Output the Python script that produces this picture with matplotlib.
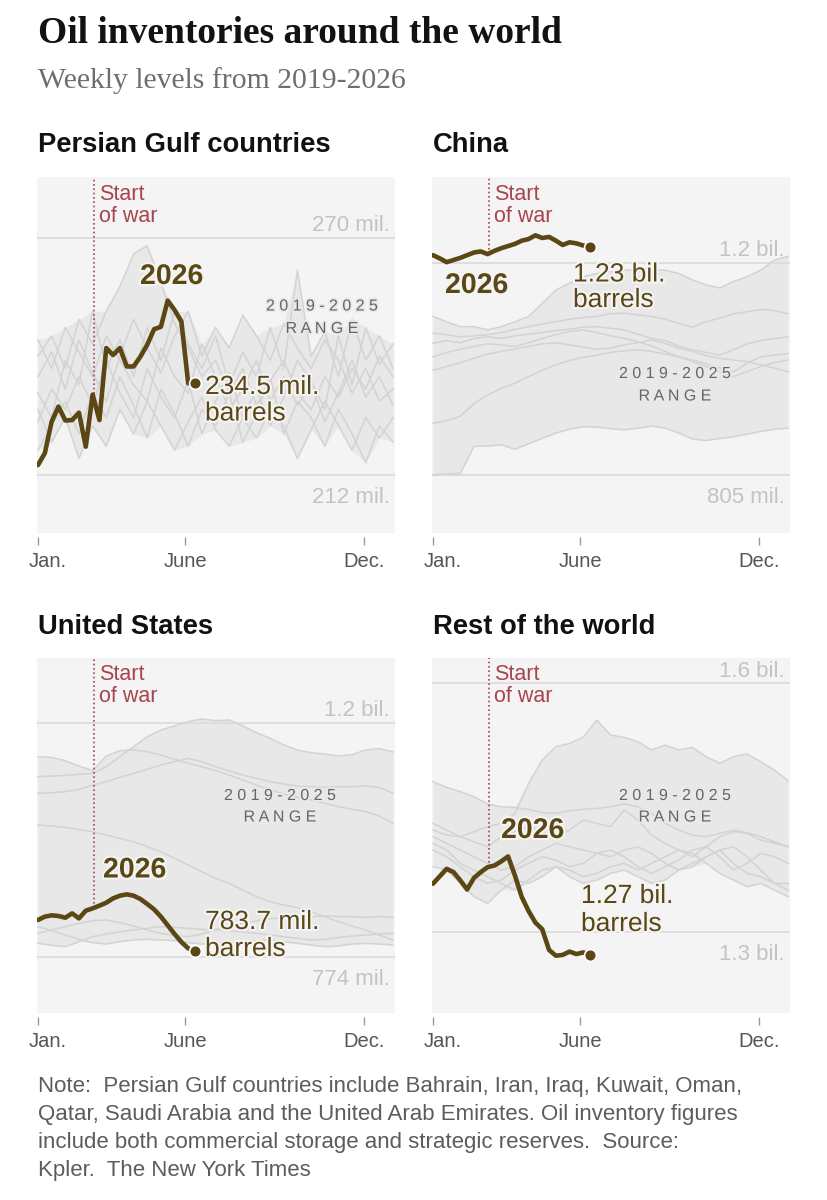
import matplotlib
matplotlib.use('Agg')
import numpy as np
import matplotlib.pyplot as plt
from matplotlib import patheffects as pe
from matplotlib.transforms import ScaledTranslation

W, H = 828, 1200

OLIVE = '#5a4714'
RED = '#a8434f'
PANEL_BG = '#f4f4f4'
BAND = '#e8e8e8'
PAST_LINE = '#d3d3d3'
GRID = '#dcdcdc'
GRID_TXT = '#c3c3c3'
SANS = 'Liberation Sans'
SERIF = 'Liberation Serif'
NARROW = ['Liberation Sans Narrow', 'DejaVu Sans Condensed', 'Liberation Sans']

# ---------------- data, millions of barrels ----------------
# 2026: weekly, from the first week of January to early June
gulf_2026 = [214.4, 217.3, 225.0, 228.7, 225.3, 225.4, 227.2, 218.9, 231.6, 225.4,
             243.0, 241.3, 243.0, 238.5, 238.5, 240.9, 243.8, 247.6, 248.2, 254.6,
             252.3, 249.5, 234.4, 234.5]
china_2026 = [1214, 1208, 1201, 1205, 1209, 1214, 1219, 1221, 1216, 1222, 1227, 1231,
              1235, 1241, 1244, 1251, 1246, 1248, 1241, 1233, 1238, 1236, 1232, 1230]
us_2026 = [840.8, 846.9, 849.3, 848.1, 845.0, 852.9, 843.8, 857.8, 862.0, 866.9,
           872.3, 880.2, 885.1, 887.5, 885.1, 879.0, 869.9, 860.2, 846.9, 831.1,
           815.3, 800.7, 789.2, 783.7]
row_2026 = [1358, 1367, 1376, 1372, 1362, 1351, 1365, 1372, 1378, 1380, 1385, 1391,
            1368, 1342, 1325, 1311, 1303, 1278, 1271, 1272, 1276, 1273, 1275, 1272]

# 2019-2025: one line per year, every two weeks through the year
gulf_past = [
    [241, 246, 238, 250, 244, 252, 258, 266, 268, 259, 249, 243, 236, 240, 232, 238, 229, 235, 240, 232, 228, 236, 231, 238, 233, 241, 236],
    [232, 226, 240, 234, 252, 238, 245, 236, 248, 240, 252, 244, 238, 246, 234, 242, 236, 248, 238, 262, 241, 247, 236, 250, 240, 246, 238],
    [225, 233, 228, 236, 229, 240, 232, 226, 238, 231, 226, 235, 222, 230, 237, 226, 233, 224, 231, 240, 235, 228, 246, 234, 248, 239, 244],
    [218, 224, 230, 222, 232, 226, 236, 229, 221, 233, 227, 219, 228, 224, 232, 220, 227, 236, 222, 230, 226, 219, 228, 222, 215, 224, 220],
    [236, 242, 233, 245, 237, 230, 241, 250, 243, 237, 246, 252, 241, 248, 243, 251, 246, 240, 249, 243, 238, 245, 240, 232, 238, 230, 233],
    [228, 220, 226, 216, 224, 219, 228, 222, 230, 224, 218, 225, 231, 223, 219, 226, 221, 228, 224, 216, 223, 230, 224, 218, 226, 221, 226],
    [245, 238, 248, 242, 236, 246, 240, 234, 230, 243, 236, 232, 244, 236, 228, 233, 240, 230, 236, 229, 234, 225, 232, 240, 231, 236, 229],
]
china_past = [
    [1100, 1090, 1081, 1081, 1075, 1081, 1090, 1100, 1124, 1149, 1162, 1174, 1180, 1183, 1186, 1187, 1188, 1186, 1180, 1168, 1159, 1153, 1165, 1174, 1186, 1205, 1212],
    [1069, 1066, 1062, 1064, 1066, 1070, 1076, 1081, 1086, 1090, 1095, 1098, 1100, 1105, 1106, 1103, 1100, 1095, 1087, 1080, 1090, 1097, 1105, 1109, 1113, 1111, 1105],
    [1050, 1055, 1051, 1059, 1062, 1059, 1064, 1067, 1070, 1074, 1076, 1080, 1081, 1078, 1075, 1067, 1059, 1055, 1045, 1038, 1033, 1028, 1038, 1049, 1055, 1059, 1062],
    [1025, 1033, 1039, 1044, 1049, 1047, 1044, 1051, 1059, 1066, 1072, 1075, 1070, 1064, 1059, 1053, 1045, 1035, 1025, 1016, 1007, 997, 988, 997, 1007, 1014, 1019],
    [1000, 1007, 1014, 1022, 1030, 1035, 1039, 1044, 1049, 1051, 1047, 1043, 1039, 1041, 1047, 1051, 1056, 1050, 1041, 1035, 1027, 1022, 1019, 1016, 1010, 1004, 997],
    [901, 906, 914, 938, 954, 966, 976, 988, 1000, 1010, 1018, 1024, 1028, 1033, 1036, 1038, 1035, 1030, 1025, 1019, 1012, 1004, 997, 1013, 1025, 1028, 1031],
    [805, 807, 808, 858, 859, 861, 853, 863, 873, 883, 890, 895, 894, 891, 889, 892, 896, 892, 883, 872, 869, 873, 876, 881, 886, 890, 892],
]
us_past = [
    [1101.7, 1102.9, 1104.1, 1106.0, 1107.8, 1119.9, 1138.1, 1156.3, 1174.5, 1186.7, 1194.0, 1201.8, 1206.7, 1203.7, 1204.9, 1194.0, 1181.8, 1171.5, 1159.4, 1150.3, 1145.4, 1143.0, 1139.3, 1141.8, 1150.3, 1152.7, 1146.6],
    [1138.1, 1136.9, 1130.8, 1121.1, 1112.6, 1139.3, 1149.0, 1150.3, 1147.2, 1141.2, 1133.3, 1126.0, 1119.9, 1112.6, 1104.7, 1095.6, 1086.5, 1077.4, 1070.2, 1064.1, 1059.2, 1053.2, 1047.1, 1042.2, 1038.0, 1030.1, 1016.8],
    [1071.4, 1072.6, 1074.4, 1078.7, 1086.5, 1092.6, 1100.5, 1107.8, 1115.1, 1123.0, 1129.0, 1135.1, 1129.0, 1119.9, 1112.6, 1104.7, 1098.7, 1092.6, 1088.4, 1084.7, 1083.5, 1082.3, 1083.5, 1083.5, 1084.7, 1082.3, 1071.4],
    [1013.7, 1011.9, 1009.5, 1005.8, 1001.6, 995.5, 989.5, 983.4, 974.3, 965.2, 953.0, 940.9, 928.8, 916.6, 907.5, 895.4, 883.3, 874.2, 868.1, 863.8, 856.0, 846.9, 837.8, 829.9, 822.6, 813.5, 804.4],
    [816.5, 822.6, 828.7, 834.7, 839.6, 840.8, 835.9, 829.9, 822.6, 816.5, 812.9, 810.4, 815.3, 823.8, 829.9, 834.7, 839.6, 843.2, 845.6, 846.9, 846.9, 848.1, 846.9, 846.9, 845.6, 846.9, 845.6],
    [798.3, 794.7, 792.2, 801.4, 810.4, 815.3, 819.5, 822.6, 825.6, 828.7, 827.4, 825.6, 823.8, 822.6, 821.4, 819.0, 816.5, 813.5, 810.4, 807.4, 804.4, 805.6, 809.2, 811.7, 813.5, 815.3, 816.5],
    [828.7, 821.4, 813.5, 805.6, 799.5, 797.1, 801.4, 804.4, 805.6, 804.4, 803.2, 799.5, 797.1, 798.3, 799.5, 801.4, 803.2, 804.4, 801.4, 798.3, 795.3, 792.2, 793.5, 797.1, 798.3, 797.1, 795.3],
]
row_past = [
    [1422.8, 1416.8, 1414.8, 1420.8, 1426.9, 1430.9, 1443.0, 1479.2, 1507.4, 1523.5, 1527.5, 1534.8, 1555.7, 1537.6, 1534.8, 1529.6, 1519.5, 1525.5, 1519.5, 1522.7, 1511.4, 1503.4, 1511.4, 1514.7, 1505.4, 1495.3, 1482.4],
    [1481.2, 1474.4, 1469.2, 1463.1, 1454.3, 1451.0, 1450.2, 1447.8, 1443.8, 1443.0, 1446.2, 1447.8, 1449.0, 1451.0, 1454.3, 1451.0, 1443.0, 1430.9, 1422.8, 1416.8, 1414.8, 1418.8, 1422.8, 1419.6, 1414.8, 1408.7, 1402.7],
    [1430.9, 1422.8, 1414.8, 1408.7, 1402.7, 1414.8, 1420.8, 1426.9, 1420.8, 1414.8, 1422.8, 1434.9, 1430.9, 1426.9, 1447.0, 1434.9, 1416.8, 1406.7, 1398.7, 1390.6, 1402.7, 1414.8, 1420.8, 1418.8, 1410.8, 1406.7, 1402.7],
    [1414.8, 1406.7, 1398.7, 1390.6, 1382.6, 1374.5, 1378.5, 1390.6, 1398.7, 1406.7, 1402.7, 1398.7, 1394.7, 1390.6, 1398.7, 1402.7, 1394.7, 1382.6, 1374.5, 1378.5, 1390.6, 1398.7, 1382.6, 1370.5, 1366.5, 1358.4, 1350.3],
    [1398.7, 1390.6, 1378.5, 1366.5, 1358.4, 1362.4, 1374.5, 1382.6, 1390.6, 1386.6, 1378.5, 1382.6, 1394.7, 1398.7, 1390.6, 1378.5, 1370.5, 1378.5, 1386.6, 1398.7, 1402.7, 1390.6, 1374.5, 1382.6, 1394.7, 1390.6, 1382.6],
    [1378.5, 1374.5, 1358.4, 1342.3, 1334.2, 1350.3, 1362.4, 1358.4, 1366.5, 1378.5, 1374.5, 1366.5, 1370.5, 1378.5, 1382.6, 1374.5, 1382.6, 1390.6, 1398.7, 1394.7, 1382.6, 1370.5, 1362.4, 1354.4, 1358.4, 1350.3, 1342.3],
    [1406.7, 1398.7, 1382.6, 1374.5, 1366.5, 1358.4, 1350.3, 1362.4, 1374.5, 1378.5, 1366.5, 1358.4, 1362.4, 1370.5, 1374.5, 1366.5, 1358.4, 1362.4, 1374.5, 1382.6, 1390.6, 1398.7, 1402.7, 1390.6, 1374.5, 1358.4, 1358.4],
]

month_days = [0, 151, 334]
month_labels = ['Jan.', 'June', 'Dec.']
war_day = 57

panels = [
    dict(title='Persian Gulf countries', now=gulf_2026, past=gulf_past,
         grid=(270, 212), grid_labels=('270 mil.', '212 mil.'),
         end_label=('234.5 mil.', 'barrels')),
    dict(title='China', now=china_2026, past=china_past,
         grid=(1200, 805), grid_labels=('1.2 bil.', '805 mil.'),
         end_label=('1.23 bil.', 'barrels')),
    dict(title='United States', now=us_2026, past=us_past,
         grid=(1200, 774), grid_labels=('1.2 bil.', '774 mil.'),
         end_label=('783.7 mil.', 'barrels')),
    dict(title='Rest of the world', now=row_2026, past=row_past,
         grid=(1600, 1300), grid_labels=('1.6 bil.', '1.3 bil.'),
         end_label=('1.27 bil.', 'barrels')),
]

# layout, in pixels from the top left of the picture
layout = [
    dict(box=(37, 177, 395, 533), ylim=(197.8, 284.8), title_y=152,
         war_y=(200, 222), year_xy=(140, 284), range_xy=(322, 310.5, 333),
         end_xy=(205, 394, 420.5)),
    dict(box=(432, 177, 790, 533), ylim=(697.0, 1359.5), title_y=152,
         war_y=(200, 222), year_xy=(445, 293), range_xy=(675, 378, 400.5),
         end_xy=(573, 281.5, 307)),
    dict(box=(37, 658, 395, 1013), ylim=(671.5, 1317.8), title_y=634,
         war_y=(680, 702), year_xy=(103, 877.5), range_xy=(280, 800, 821.5),
         end_xy=(205, 929, 956)),
    dict(box=(432, 658, 790, 1013), ylim=(1201.8, 1630.7), title_y=634,
         war_y=(680, 702), year_xy=(501, 838), range_xy=(675, 800, 821.5),
         end_xy=(581, 903, 931)),
]

fig = plt.figure(figsize=(W / 100, H / 100), dpi=100)
renderer = fig.canvas.get_renderer()


def ftext(x, y, s, **kw):
    return fig.text(x / W, 1 - y / H, s, **kw)


def fit_width(t, width_px):
    w = t.get_window_extent(renderer).width
    t.set_fontsize(t.get_fontsize() * width_px / w)
    return t.get_fontsize()


halo = [pe.withStroke(linewidth=3, foreground=PANEL_BG)]
band_halo = [pe.withStroke(linewidth=2.5, foreground=BAND)]

# headline
t = ftext(38, 43, 'Oil inventories around the world', family=SERIF,
          weight='bold', fontsize=30, color='#121212', va='baseline')
fit_width(t, 523)
t = ftext(38, 88, 'Weekly levels from 2019-2026', family=SERIF,
          fontsize=20, color='#6e6e6e', va='baseline')
fit_width(t, 369)

panel_title_size = None
for p, lay in zip(panels, layout):
    l, top, r, b = lay['box']
    ax = fig.add_axes([l / W, 1 - b / H, (r - l) / W, (b - top) / H])
    ax.set_facecolor(PANEL_BG)
    ax.set_xlim(-1, 366)
    ax.set_ylim(*lay['ylim'])
    for s in ax.spines.values():
        s.set_visible(False)
    ax.spines['bottom'].set_position(('outward', 2.7))
    ax.set_yticks([])
    ax.set_xticks(month_days, month_labels)
    ax.tick_params(axis='x', length=6, width=1, color='#9a9a9a', pad=5,
                   labelsize=14.5, labelcolor='#555555')
    for lab in ax.get_xticklabels():
        lab.set_family(SANS)
    first = ax.get_xticklabels()[0]
    first.set_transform(first.get_transform() + ScaledTranslation(0.1, 0, fig.dpi_scale_trans))

    weeks_past = np.arange(len(p['past'][0])) * 14
    weeks_now = np.arange(len(p['now'])) * 7
    past = np.array(p['past'])

    ax.fill_between(weeks_past, past.min(axis=0), past.max(axis=0),
                    color=BAND, lw=0, zorder=1)
    for v in p['grid']:
        ax.axhline(v, color=GRID, lw=1.3, zorder=1.5)
    for line in past:
        ax.plot(weeks_past, line, color=PAST_LINE, lw=1.1, zorder=2)

    # grid labels: upper one above its line, lower one below
    ax.annotate(p['grid_labels'][0], xy=(1, p['grid'][0]),
                xycoords=('axes fraction', 'data'), xytext=(-5, 6.5),
                textcoords='offset pixels', ha='right', va='baseline',
                fontsize=16, color=GRID_TXT, family=SANS, zorder=3)
    ax.annotate(p['grid_labels'][1], xy=(1, p['grid'][1]),
                xycoords=('axes fraction', 'data'), xytext=(-5, -12.5),
                textcoords='offset pixels', ha='right', va='top',
                fontsize=16, color=GRID_TXT, family=SANS, zorder=3)

    # start of war
    war_val = np.interp(war_day, weeks_now, p['now'])
    ax.plot([war_day, war_day], [war_val, lay['ylim'][1]], color=RED, lw=1.2,
            ls=(0, (1, 1.6)), zorder=4)

    ax.plot(weeks_now, p['now'], color=OLIVE, lw=3.3, solid_capstyle='round',
            solid_joinstyle='round', zorder=5)
    ax.plot(weeks_now[-1], p['now'][-1], 'o', ms=8.5, mfc=OLIVE, mec='white',
            mew=1.2, zorder=6)

    # texts
    t = ftext(38 if l < 400 else 433, lay['title_y'], p['title'], family=SANS,
              weight='bold', fontsize=20, color='#111111', va='baseline')
    if panel_title_size is None:
        panel_title_size = fit_width(t, 292)
    else:
        t.set_fontsize(panel_title_size)

    wx = l + 5 + (war_day + 1) * (r - l) / 367
    for y, s in zip(lay['war_y'], ['Start', 'of war']):
        ftext(wx, y, s, family=SANS, fontsize=15.5, color=RED, va='baseline')

    ftext(lay['year_xy'][0], lay['year_xy'][1], '2026', family=SANS,
          weight='bold', fontsize=20.5, color=OLIVE, va='baseline',
          path_effects=halo)

    cx, y1, y2 = lay['range_xy']
    ftext(cx, y1, '2 0 1 9 - 2 0 2 5', family=SANS, fontsize=11.5, color='#666666',
          ha='center', va='baseline', path_effects=band_halo)
    ftext(cx, y2, 'R A N G E', family=SANS, fontsize=11.5, color='#666666',
          ha='center', va='baseline', path_effects=band_halo)

    ex, e1, e2 = lay['end_xy']
    ftext(ex, e1, p['end_label'][0], family=SANS, fontsize=19, color=OLIVE,
          va='baseline', path_effects=halo)
    ftext(ex, e2, p['end_label'][1], family=SANS, fontsize=19, color=OLIVE,
          va='baseline', path_effects=halo)

# note
note_lines = [
    'Note:  Persian Gulf countries include Bahrain, Iran, Iraq, Kuwait, Oman,',
    'Qatar, Saudi Arabia and the United Arab Emirates. Oil inventory figures',
    'include both commercial storage and strategic reserves.  Source:',
    'Kpler.  The New York Times',
]
note_size = None
for i, s in enumerate(note_lines):
    t = ftext(38, 1092 + 28 * i, s, family=NARROW, fontsize=15,
              color='#5c5c5c', va='baseline')
    if note_size is None:
        note_size = fit_width(t, 707)
    else:
        t.set_fontsize(note_size)

fig.savefig('out.png', dpi=100, facecolor='white')
